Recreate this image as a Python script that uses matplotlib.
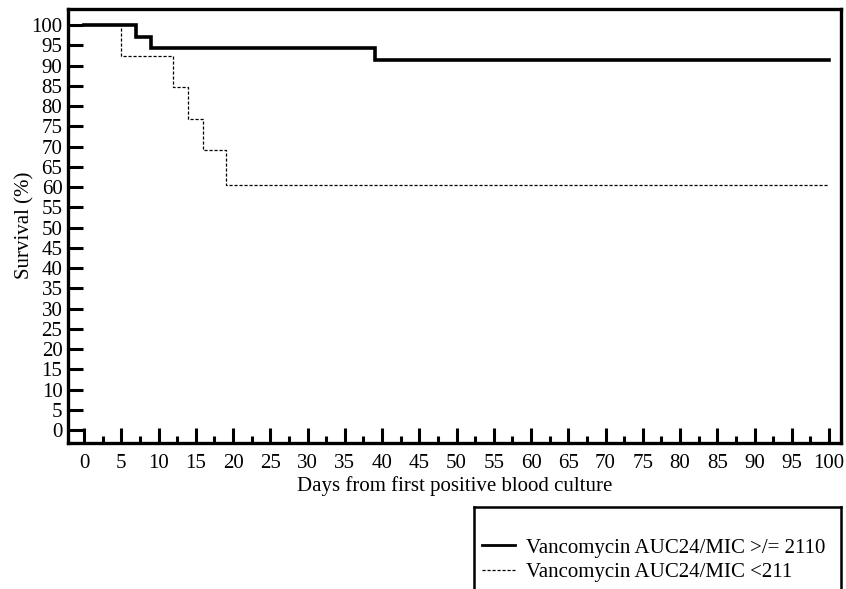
import matplotlib
matplotlib.use("Agg")
import matplotlib.pyplot as plt
from matplotlib.ticker import MultipleLocator

plt.rcParams['font.family'] = ['Liberation Serif', 'DejaVu Serif']

# Kaplan-Meier step data (day, survival %)
high_days = [0, 7, 9, 39, 100]
high_surv = [100.0, 97.14, 94.29, 91.43, 91.43]
low_days = [0, 5, 12, 14, 16, 19, 100]
low_surv = [100.0, 92.31, 84.62, 76.92, 69.23, 60.58, 60.58]
labels = ["Vancomycin AUC24/MIC >/= 2110", "Vancomycin AUC24/MIC <211"]
xticks = list(range(0, 101, 5))
yticks = list(range(0, 101, 5))

W, H = 846, 589
fig = plt.figure(figsize=(W/100, H/100), dpi=100)
L, R, T, B = 68, 841, 8.5, 443
ax = fig.add_axes([L/W, 1-B/H, (R-L)/W, (B-T)/H])

l1, = ax.step(high_days, high_surv, where='post', color='black', lw=2.6, solid_joinstyle='miter')
l2, = ax.step(low_days, low_surv, where='post', color='black', lw=0.9, ls=(0, (2.5, 1.5)))

ax.set_xlim(-2.15, 101.6)
ax.set_ylim(-3.2, 104.1)
ax.set_xticks(xticks)
ax.set_yticks(yticks)
ax.xaxis.set_minor_locator(MultipleLocator(2.5))
ax.tick_params(axis='both', which='major', direction='in', length=11, width=2.2, labelsize=15)
ax.tick_params(axis='x', which='major', pad=8)
ax.tick_params(axis='y', which='major', pad=4)
ax.tick_params(axis='x', which='minor', direction='in', length=5, width=2.2)
for s in ax.spines.values():
    s.set_linewidth(2.4)

ax.set_xlabel("Days from first positive blood culture", fontsize=15, labelpad=2)
ax.set_ylabel("Survival (%)", fontsize=15, labelpad=-2)

# Legend box (clipped by figure bottom)
lx0, ly0 = 474, 507
lax = fig.add_axes([lx0/W, -0.06, (R-lx0)/W, (H-ly0)/H + 0.06])
lax.set_xticks([]); lax.set_yticks([])
for s in lax.spines.values():
    s.set_linewidth(1.8)
lax.patch.set_alpha(0)
leg = fig.legend([l1, l2], labels, loc='upper left',
                 bbox_to_anchor=((lx0 + 8)/W, 1 - 538/H),
                 frameon=False, fontsize=15, handlelength=1.6, handletextpad=0.5,
                 labelspacing=0.25, borderaxespad=0.0, borderpad=0.0)
leg.legend_handles[0].set_linewidth(2.0)

fig.savefig("out.png", dpi=100)
